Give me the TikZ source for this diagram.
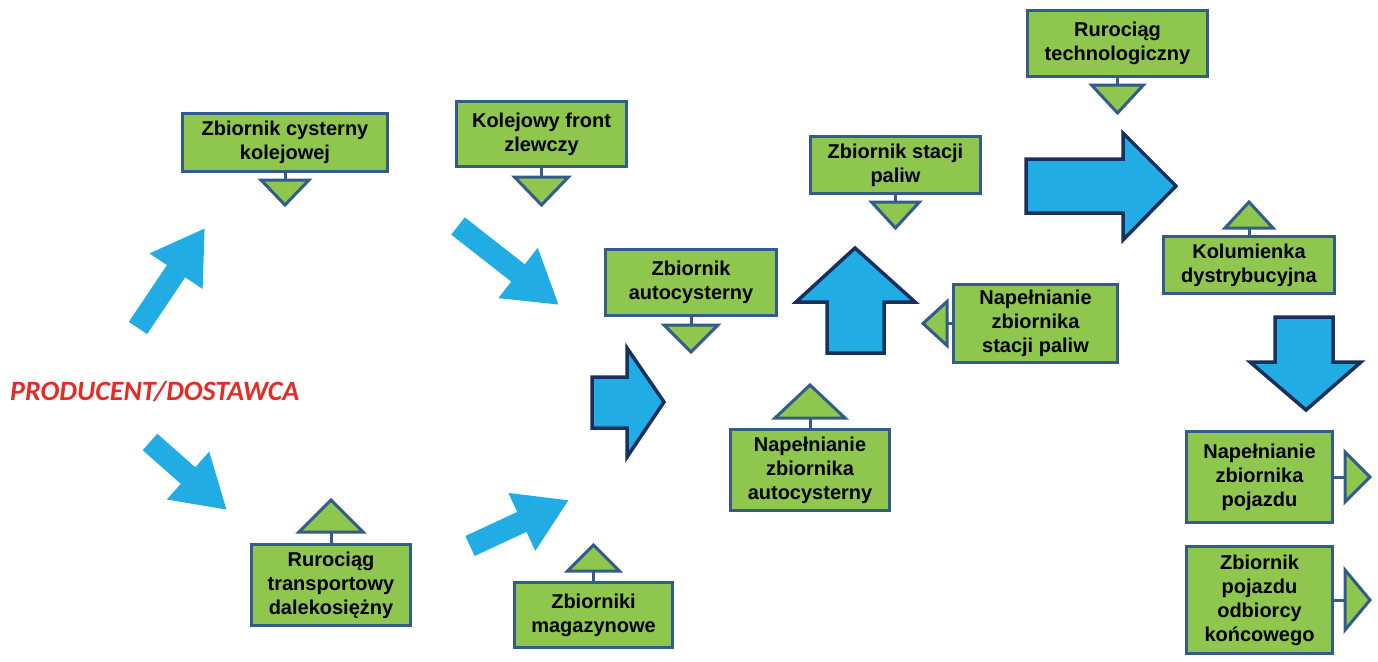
\documentclass[tikz,border=0pt]{standalone}
\usepackage{fontspec}
\setmainfont{Liberation Sans}
\newfontfamily\calib{Carlito}
\usetikzlibrary{arrows.meta,calc}
\definecolor{boxgreen}{RGB}{142,198,78}
\definecolor{boxline}{RGB}{52,92,138}
\definecolor{arrblue}{RGB}{34,172,228}
\definecolor{arrline}{RGB}{25,48,92}
\definecolor{prodred}{RGB}{230,42,36}
\newcommand\dtri[4]{% node, half width, depth, gap
  \draw[stem] (#1.south) -- ++(0,#4) coordinate (#1-t);
  \draw[tri] (#1-t) ++(-#2,0) -- ++(2*#2,0) -- ++(-#2,#3) -- cycle;}
\newcommand\utri[4]{%
  \draw[stem] (#1.north) -- ++(0,-#4) coordinate (#1-t);
  \draw[tri] (#1-t) ++(-#2,0) -- ++(2*#2,0) -- ++(-#2,-#3) -- cycle;}
\newcommand\rtri[4]{%
  \draw[stem] (#1.east) -- ++(#4,0) coordinate (#1-t);
  \draw[tri] (#1-t) ++(0,-#2) -- ++(0,2*#2) -- ++(#3,-#2) -- cycle;}
\newcommand\ltri[4]{%
  \draw[stem] (#1.west) -- ++(-#4,0) coordinate (#1-t);
  \draw[tri] (#1-t) ++(0,-#2) -- ++(0,2*#2) -- ++(-#3,-#2) -- cycle;}
\begin{document}
\begin{tikzpicture}[x=1pt,y=-1pt,
  box/.style={draw=boxline, line width=3pt, fill=boxgreen, align=center, inner sep=0pt,
    font=\fontsize{20}{24}\selectfont\bfseries},
  tri/.style={draw=boxline, line width=3pt, fill=boxgreen, line join=miter},
  stem/.style={draw=boxline, line width=3pt},
  thinarrow/.style={draw=arrblue, line width=22pt, -{Triangle[length=52pt,width=60pt]}},
  bigarrow/.style={draw=arrline, line width=3.5pt, fill=arrblue, line join=miter}]
\useasboundingbox (0,0) rectangle (1378,661);

% boxes
\node[box, minimum width=205pt, minimum height=58pt] (b1) at (285,142.5) {Zbiornik cysterny\\kolejowej};
\node[box, minimum width=170pt, minimum height=65pt] (b2) at (541.5,134) {Kolejowy front\\zlewczy};
\node[box, minimum width=171pt, minimum height=66pt] (b3) at (691,282.5) {Zbiornik\\autocysterny};
\node[box, minimum width=170pt, minimum height=57pt] (b5) at (895.5,165) {Zbiornik stacji\\paliw};
\node[box, minimum width=180pt, minimum height=66pt] (b4) at (1117.5,43.5) {Rurociąg\\technologiczny};
\node[box, minimum width=171pt, minimum height=57pt] (kol) at (1249,265) {Kolumienka\\dystrybucyjna};
\node[box, minimum width=164pt, minimum height=78pt] (nsp) at (1035.5,323.5) {Napełnianie\\zbiornika\\stacji paliw};
\node[box, minimum width=159pt, minimum height=81pt] (nau) at (810,470) {Napełnianie\\zbiornika\\autocysterny};
\node[box, minimum width=159pt, minimum height=81pt] (rtd) at (331,585) {Rurociąg\\transportowy\\dalekosiężny};
\node[box, minimum width=158pt, minimum height=65pt] (zm) at (593.5,615) {Zbiorniki\\magazynowe};
\node[box, minimum width=146pt, minimum height=91pt] (nzp) at (1259.5,477) {Napełnianie\\zbiornika\\pojazdu};
\node[box, minimum width=146pt, minimum height=107pt] (zpo) at (1259.5,600) {Zbiornik\\pojazdu\\odbiorcy\\końcowego};

% triangles
\dtri{b1}{24}{25}{7}
\dtri{b2}{27}{28}{9}
\dtri{b3}{27}{27}{8}
\dtri{b5}{24}{26}{7}
\dtri{b4}{26}{28}{7}
\utri{kol}{24}{26}{7}
\utri{nau}{35}{33}{10}
\utri{rtd}{32}{32}{11}
\utri{zm}{26}{26}{10}
\ltri{nsp}{22}{24}{5}
\rtri{nzp}{25}{25}{11}
\rtri{zpo}{30}{25}{11}

% label
\node[font=\calib\fontsize{28}{30}\selectfont\bfseries\itshape, text=prodred, inner sep=0pt, anchor=base west] (prod) at (10,400) {PRODUCENT/DOSTAWCA};

% thin arrows
\coordinate (a1s) at (138,328); \coordinate (a1e) at (205,228);
\coordinate (a2s) at (458,226); \coordinate (a2e) at (559,305);
\coordinate (a3s) at (150,442); \coordinate (a3e) at (227,510);
\coordinate (a4s) at (470,546); \coordinate (a4e) at (569,500);
\draw[thinarrow] (a1s) -- (a1e);
\draw[thinarrow] (a2s) -- (a2e);
\draw[thinarrow] (a3s) -- (a3e);
\draw[thinarrow] (a4s) -- (a4e);

% big bordered arrows
\draw[bigarrow] (1026,159) -- (1123,159) -- (1123,133) -- (1176,186) -- (1123,240) -- (1123,213) -- (1026,213) -- cycle;
\draw[bigarrow] (592,377) -- (627,377) -- (627,348) -- (664,402) -- (627,457) -- (627,428) -- (592,428) -- cycle;
\draw[bigarrow] (855,248) -- (915,302) -- (884,302) -- (884,353) -- (827,353) -- (827,302) -- (796,302) -- cycle;
\draw[bigarrow] (1275,317) -- (1333,317) -- (1333,362) -- (1361,362) -- (1306,410) -- (1250,362) -- (1275,362) -- cycle;
\end{tikzpicture}
\end{document}
